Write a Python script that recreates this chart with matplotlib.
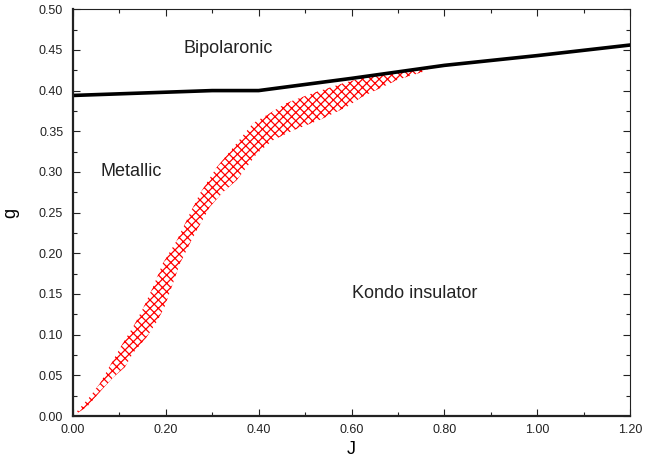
import matplotlib
matplotlib.use("Agg")
import matplotlib.pyplot as plt
from matplotlib.ticker import MultipleLocator, FormatStrFormatter

plt.rcParams['font.family'] = ['Liberation Sans', 'DejaVu Sans']
plt.rcParams['hatch.linewidth'] = 0.9

# phase boundary (black line)
J_line = [0.0, 0.1, 0.2, 0.3, 0.4, 0.6, 0.8, 1.0, 1.2]
g_line = [0.394, 0.396, 0.398, 0.400, 0.400, 0.415, 0.431, 0.443, 0.456]

# crossover band: upper-left edge
J_upper = [0.0, 0.037, 0.058, 0.083, 0.108, 0.129, 0.149, 0.172, 0.194, 0.224,
           0.252, 0.274, 0.310, 0.345, 0.388, 0.409, 0.461, 0.517, 0.582,
           0.625, 0.698, 0.769]
g_upper = [0.0, 0.024, 0.040, 0.065, 0.090, 0.109, 0.130, 0.158, 0.188, 0.216,
           0.249, 0.274, 0.306, 0.330, 0.360, 0.367, 0.385, 0.397, 0.409,
           0.416, 0.424, 0.428]
# crossover band: lower-right edge
J_lower = [0.0, 0.030, 0.065, 0.086, 0.112, 0.129, 0.159, 0.183, 0.198, 0.231,
           0.259, 0.295, 0.323, 0.353, 0.397, 0.431, 0.474, 0.532, 0.590,
           0.622, 0.698, 0.754, 0.769]
g_lower = [0.0, 0.011, 0.034, 0.047, 0.060, 0.077, 0.097, 0.118, 0.135, 0.188,
           0.220, 0.257, 0.275, 0.290, 0.323, 0.339, 0.351, 0.364, 0.380,
           0.392, 0.413, 0.423, 0.428]

labels = ["Bipolaronic", "Metallic", "Kondo insulator"]
label_J = [0.335, 0.125, 0.737]
label_g = [0.452, 0.300, 0.150]

fig = plt.figure(figsize=(6.45, 4.61), dpi=100)
ax = fig.add_axes([0.113, 0.0976, 0.864, 0.8824])

band_J = J_upper + J_lower[::-1]
band_g = g_upper + g_lower[::-1]
ax.fill(band_J, band_g, facecolor='none', edgecolor='red', linewidth=0,
        hatch='xxxx')

ax.plot(J_line, g_line, color='black', lw=2.6, solid_capstyle='butt')

for t, x, y in zip(labels, label_J, label_g):
    ax.text(x, y, t, ha='center', va='center', fontsize=13, color='#222222')

ax.set_xlim(0, 1.2)
ax.set_ylim(0, 0.5)
ax.xaxis.set_major_locator(MultipleLocator(0.2))
ax.xaxis.set_minor_locator(MultipleLocator(0.1))
ax.yaxis.set_major_locator(MultipleLocator(0.05))
ax.yaxis.set_minor_locator(MultipleLocator(0.025))
ax.xaxis.set_major_formatter(FormatStrFormatter('%.2f'))
ax.yaxis.set_major_formatter(FormatStrFormatter('%.2f'))
ax.tick_params(which='both', direction='in', top=True, right=True, labelsize=9,
               colors='#222222', width=0.8)
ax.tick_params(which='major', length=5)
ax.tick_params(which='minor', length=3)
ax.tick_params(axis='x', pad=6)
ax.tick_params(axis='y', pad=7)

for s in ['left', 'bottom']:
    ax.spines[s].set_linewidth(1.6)
    ax.spines[s].set_color('#222222')
for s in ['top', 'right']:
    ax.spines[s].set_linewidth(0.8)
    ax.spines[s].set_color('#222222')

ax.set_xlabel('J', fontsize=13, labelpad=3)
ax.set_ylabel('g', fontsize=13, labelpad=14)

fig.savefig('out.png', dpi=100)
